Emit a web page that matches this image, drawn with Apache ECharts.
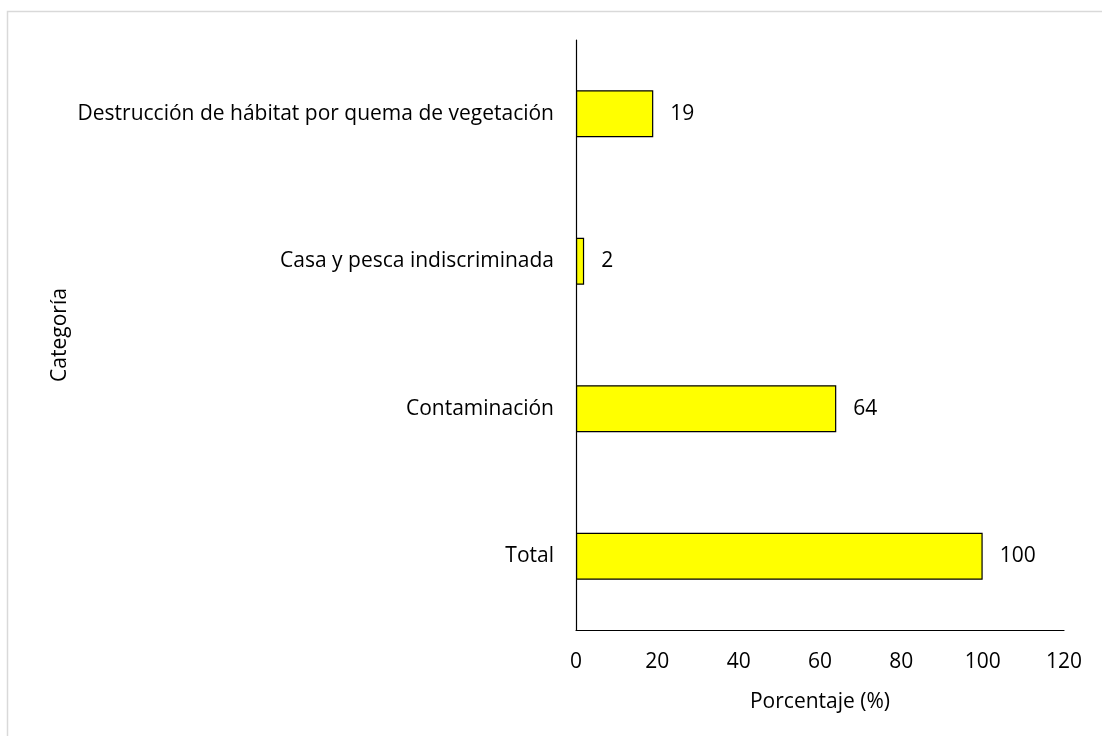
<!DOCTYPE html>
<html>
<head>
<meta charset="utf-8">
<script src="https://cdn.jsdelivr.net/npm/echarts@6/dist/echarts.min.js"></script>
<style>
  html, body { margin: 0; padding: 0; background: #fff; }
  #chart { width: 1102px; height: 736px; }
</style>
</head>
<body>
<div id="chart"></div>
<script>
// categories bottom -> top (Excel horizontal bar order)
const categories = ['Total', 'Contaminación', 'Casa y pesca indiscriminada', 'Destrucción de hábitat por quema de vegetación']
const values = [100, 64, 2, 19]
const xTicks = [0, 20, 40, 60, 80, 100, 120]

const font = '"Open Sans", "Noto Sans", sans-serif'
const fs = 21
const chart = echarts.init(document.getElementById('chart'))

const option = {
  backgroundColor: '#fff',
  animation: false,
  graphic: [{
    type: 'rect',
    shape: { x: 7.5, y: 11.5, width: 1110, height: 740 },
    style: { fill: 'none', stroke: '#d9d9d9', lineWidth: 1.5 },
    silent: true
  }],
  grid: { left: 576, right: 38, top: 40, bottom: 106 },
  xAxis: {
    type: 'value',
    min: xTicks[0],
    max: xTicks[xTicks.length - 1],
    interval: 20,
    name: 'Porcentaje (%)',
    nameLocation: 'middle',
    nameGap: 62,
    nameTextStyle: { color: '#000', fontSize: fs, fontFamily: font },
    axisLine: { show: true, lineStyle: { color: '#000', width: 1.2 } },
    axisTick: { show: false },
    splitLine: { show: false },
    axisLabel: { color: '#000', fontSize: fs, fontFamily: font, margin: 22 }
  },
  yAxis: {
    type: 'category',
    data: categories,
    name: 'Categoría',
    nameLocation: 'middle',
    nameGap: 505,
    nameRotate: 90,
    nameTextStyle: { color: '#000', fontSize: fs, fontFamily: font },
    axisLine: { show: true, lineStyle: { color: '#000', width: 1.2 } },
    axisTick: { show: false },
    axisLabel: { color: '#000', fontSize: fs, fontFamily: font, margin: 22 }
  },
  series: [{
    type: 'bar',
    data: values,
    barWidth: 47,
    itemStyle: { color: '#ffff00', borderColor: '#000', borderWidth: 1.2 },
    label: {
      show: true,
      position: 'right',
      distance: 17,
      color: '#000',
      fontSize: fs,
      fontFamily: font
    }
  }]
}
chart.setOption(option)
</script>
</body>
</html>
